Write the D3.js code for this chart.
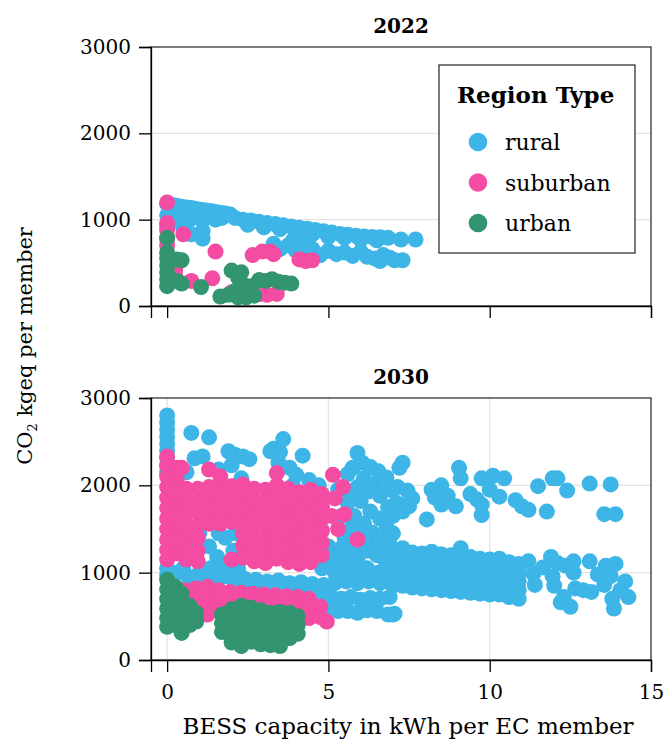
<!DOCTYPE html>
<html>
<head>
<meta charset="utf-8">
<script src="https://cdn.jsdelivr.net/npm/d3@7"></script>
<style>
  html, body { margin: 0; padding: 0; background: #fff; }
  svg { display: block; }
</style>
</head>
<body>
<svg id="chart" width="664" height="742"></svg>
<script>
// ---- data: each entry is [BESS kWh per member, [CO2 kgeq per member, ...]] ----
const regionTypes = ["rural", "suburban", "urban"];
const xTicks = [0, 5, 10, 15];
const yTicks = [0, 1000, 2000, 3000];
const years = ["2022", "2030"];

const rural2022 = [
  [0, [1180, 1050, 930]], [0.15, [1170]], [0.3, [1160, 1000]], [0.45, [1150]],
  [0.5, [1060, 900]], [0.6, [1140]], [0.7, [1000]], [0.75, [1135, 830]],
  [0.9, [1125, 1040]], [1.05, [1115]], [1.1, [990, 870, 780]], [1.2, [1105]],
  [1.3, [1040]], [1.35, [1100]], [1.5, [1090, 1000]], [1.65, [1080]], [1.7, [1020]],
  [1.8, [1070]], [1.95, [1060]], [2.1, [1020]], [2.35, [1000]], [2.5, [940]],
  [2.6, [990]], [2.85, [975]], [3.0, [910]], [3.1, [960]], [3.3, [720]],
  [3.35, [950]], [3.5, [890, 660]], [3.6, [935]], [3.75, [700]], [3.85, [920]],
  [3.9, [760]], [4.0, [860, 640]], [4.1, [905]], [4.25, [610]], [4.3, [740]],
  [4.35, [895]], [4.5, [830, 660]], [4.6, [880]], [4.75, [590]], [4.85, [865]],
  [5.0, [800, 640]], [5.1, [850]], [5.25, [600]], [5.35, [835]], [5.5, [790, 620]],
  [5.6, [825]], [5.75, [580]], [5.85, [815]], [6.0, [770, 630]], [6.1, [805]],
  [6.2, [570]], [6.35, [800]], [6.45, [550]], [6.5, [760]], [6.6, [795, 520]],
  [6.7, [590]], [6.85, [790]], [6.9, [560]], [7.05, [530]], [7.25, [770]],
  [7.3, [530]], [7.7, [770]]
];

const suburban2022 = [
  [0, [1200, 960, 880, 780, 700]], [0.25, [420, 350]], [0.5, [830]],
  [0.75, [290]], [1.4, [320]], [1.5, [630]], [2.0, [160]], [2.6, [150]],
  [2.65, [590]], [2.9, [140]], [2.95, [630]], [3.1, [130]], [3.2, [630]],
  [3.3, [600]], [3.4, [140]], [4.1, [540]], [4.3, [520]], [4.5, [530]]
];

const urban2022 = [
  [0, [790, 620, 550, 470, 390, 310, 230]], [0.3, [540, 290]], [0.45, [530, 260]],
  [1.05, [220]], [1.65, [110]], [1.9, [130]], [2.0, [410]], [2.1, [170]],
  [2.2, [330, 100]], [2.3, [390]], [2.35, [250]], [2.45, [100]], [2.6, [230]],
  [2.7, [120]], [2.85, [300]], [3.05, [290]], [3.25, [310]], [3.45, [280]],
  [3.65, [270]], [3.85, [260]]
];

const rural2030 = [
  [0, [2800, 2720, 2640, 2560, 2480, 2400, 2320, 2240, 2150, 1050, 980]],
  [0.3, [1000]], [0.5, [1050]], [0.6, [2150]], [0.65, [950]], [0.7, [1250]],
  [0.75, [2600]], [0.85, [2310]], [1.0, [1450, 1000, 920]], [1.1, [2330]],
  [1.3, [2550, 1300]], [1.35, [1050, 940]], [1.55, [1180]], [1.6, [2180, 1450]],
  [1.7, [950]], [1.75, [1100]], [1.8, [1400]], [1.9, [2390, 1050]],
  [2.0, [2230]], [2.05, [1250, 920]], [2.1, [2350, 1450]], [2.2, [1050]],
  [2.3, [2080]], [2.35, [2330]], [2.4, [930, 820]], [2.55, [2300]],
  [2.75, [920]], [2.8, [830]], [3.1, [900]], [3.2, [2390, 800]], [3.3, [2420]],
  [3.45, [2260, 910]], [3.5, [2380]], [3.6, [2530, 810]], [3.8, [2200, 880]],
  [3.9, [2000]], [4.0, [2120, 790]], [4.15, [890]], [4.2, [2340]],
  [4.4, [2060, 780]], [4.5, [870]], [4.7, [2000, 650]], [4.8, [1050, 760]],
  [4.85, [860]], [5.0, [1300, 600]], [5.1, [1150, 720]], [5.2, [1000, 880]],
  [5.25, [1200]], [5.3, [1950, 1050, 560]], [5.4, [1650, 1280, 700]],
  [5.5, [1400, 1050]], [5.55, [900]], [5.6, [2130, 1800, 1250, 1100, 560]],
  [5.7, [1880, 1430, 720]], [5.75, [2200, 1550]],
  [5.8, [1650, 1220]], [5.85, [1000]], [5.9, [2370, 1980, 1150, 880, 540]],
  [6.0, [1820, 1350, 690]], [6.05, [2260]], [6.1, [2080, 1560, 1450]],
  [6.2, [1250, 1050, 570]], [6.25, [1930, 900]], [6.3, [2210, 1700, 710]],
  [6.35, [1460]], [6.4, [1300]], [6.45, [2020]], [6.5, [1200, 560]],
  [6.55, [2160, 1000]], [6.6, [1880, 1620, 1380, 880, 700]], [6.75, [1150]],
  [6.8, [2090, 1520, 1250]], [6.85, [1750, 520]],
  [6.9, [1950, 1400, 1300, 1050, 900, 720]],
  [7.0, [1650, 1450, 1270, 1160, 1050, 950, 850, 520]],
  [7.05, [530]], [7.1, [1800]], [7.15, [1980]], [7.2, [2200, 1780]],
  [7.3, [2260, 1700, 1280, 1170, 1060, 960, 850]], [7.45, [1940]],
  [7.5, [1760]], [7.6, [1850, 1230, 1120, 1020, 920, 830]],
  [7.9, [1220, 1110, 1010, 910, 820]], [8.05, [1610]],
  [8.2, [1950, 1240, 1130, 1020, 920, 810]], [8.3, [1860]],
  [8.5, [2000, 1780, 1210, 1100, 1000, 900, 800]], [8.7, [1880]],
  [8.8, [1200, 1100, 990, 890, 790]], [8.95, [1760]], [9.05, [2200]],
  [9.1, [2080, 1280, 1170, 1060, 960, 860, 780]], [9.4, [1900, 1180, 1070, 970, 870, 770]],
  [9.6, [1840]], [9.75, [2080, 1780, 1660]], [9.7, [1160, 1060, 960, 860, 760]],
  [10.0, [1950, 1150, 1050, 950, 850, 750]], [10.1, [2110]],
  [10.3, [1870, 1160, 1050, 950, 850, 750]], [10.45, [2080]],
  [10.6, [1120, 1020, 920, 820, 720]], [10.8, [1830]],
  [10.9, [1100, 1000, 900, 800, 700]], [11.0, [1760]], [11.2, [1720, 1130]],
  [11.35, [990]], [11.4, [860]], [11.5, [1990]], [11.65, [1060]],
  [11.77, [1700]], [11.9, [1180]], [11.95, [2080, 960]], [12.0, [850]],
  [12.1, [2080, 1110]], [12.2, [660]], [12.3, [720]], [12.35, [1080]],
  [12.4, [1940]], [12.5, [610]], [12.6, [1130, 1000]], [12.65, [820]],
  [12.9, [800]], [13.1, [2020, 1130]], [13.15, [780]], [13.35, [980]],
  [13.55, [1670, 860]], [13.6, [1080]], [13.75, [2010, 960]], [13.8, [700]],
  [13.85, [590]], [13.9, [1670, 1100]], [14.05, [800]], [14.2, [900]],
  [14.3, [720]]
];

const suburban2030 = [
  [0, [2330, 2220, 2100, 1980, 1860, 1740, 1620, 1500, 1380, 1260, 1150]],
  [0.3, [2200, 2060, 1920, 1780, 1640, 1500, 1360, 1220]],
  [0.45, [2200]], [0.55, [800, 680, 560]],
  [0.6, [1960, 1820, 1680, 1540, 1400, 1260, 1150]], [0.9, [820, 700, 580]],
  [0.95, [1960, 1820, 1680, 1540, 1400, 1250, 1130]], [1.25, [840, 720, 600, 520]],
  [1.3, [2180, 1980, 1840, 1700, 1560]], [1.6, [800, 690, 590]],
  [1.65, [2100, 1960, 1820, 1680, 1560]], [1.95, [780, 680]],
  [2.0, [1990, 1850, 1710, 1580, 1150]], [2.3, [770, 670]],
  [2.35, [2010, 1870, 1730, 1590, 1450, 1310, 1170]], [2.65, [760, 660]],
  [2.7, [1960, 1820, 1680, 1540, 1400, 1260, 1130]], [3.0, [750, 650]],
  [3.05, [1950, 1810, 1670, 1530, 1390, 1250, 1110]], [3.35, [740, 640]],
  [3.4, [2140, 2000, 1860, 1720, 1580, 1440, 1300, 1160]], [3.7, [730, 630, 530]],
  [3.75, [1960, 1820, 1680, 1540, 1400, 1260, 1120]], [4.05, [720, 610, 500]],
  [4.1, [1920, 1780, 1640, 1500, 1360, 1220, 1100]], [4.4, [700, 590, 480]],
  [4.45, [1950, 1810, 1670, 1530, 1390, 1250, 1120]], [4.75, [610, 490]],
  [4.8, [1900, 1760, 1620, 1480, 1340, 1200]], [4.95, [440]],
  [5.1, [1650]], [5.14, [2120]], [5.2, [1850]], [5.3, [1500]], [5.45, [1980]],
  [5.5, [1670]], [5.9, [1380]]
];

const urban2030 = [
  [0, [920, 810, 700, 590, 480, 380]], [0.25, [840, 730, 620, 510, 400]],
  [0.45, [760, 640, 520, 400, 310]], [0.7, [620, 510, 400]], [0.9, [540, 440]],
  [1.7, [520, 420, 320]], [2.0, [580, 480, 380, 280, 200]],
  [2.3, [620, 520, 420, 320, 220, 160]], [2.6, [600, 500, 400, 300, 210]],
  [2.9, [570, 470, 370, 270, 180]], [3.2, [540, 440, 340, 240, 170]],
  [3.5, [550, 450, 350, 250, 160]], [3.8, [540, 440, 340, 250]],
  [4.05, [500, 400, 300]]
];

// ---- layout & styles ----
const W = 664, H = 742;
const FONT = "DejaVu Serif";
const palette = { rural: "#3db5e6", suburban: "#f34ca2", urban: "#32956f" };
const plotLeft = 151, plotRight = 651;
const panels = [
  { year: years[0], top: 47, bottom: 306, series: { rural: rural2022, suburban: suburban2022, urban: urban2022 }, xGrid: false, xLabels: false },
  { year: years[1], top: 398, bottom: 660, series: { rural: rural2030, suburban: suburban2030, urban: urban2030 }, xGrid: true, xLabels: true }
];

const svg = d3.select("#chart");
svg.append("rect").attr("width", W).attr("height", H).attr("fill", "#fff");

const x = d3.scaleLinear().domain([-0.5, 15]).range([plotLeft, plotRight]);

const flatten = cols => cols.flatMap(([xv, ys]) => ys.map(yv => ({ x: xv, y: yv })));

panels.forEach(p => {
  const y = d3.scaleLinear().domain([0, 3000]).range([p.bottom, p.top]);
  const g = svg.append("g");

  // grid
  const grid = g.append("g").attr("stroke", "#e4e4e4").attr("stroke-width", 1.3);
  grid.selectAll("line.h").data(yTicks.filter(t => t > 0 && t < 3000)).join("line")
    .attr("x1", plotLeft).attr("x2", plotRight)
    .attr("y1", d => y(d)).attr("y2", d => y(d));
  if (p.xGrid) {
    grid.selectAll("line.v").data(xTicks.filter(t => t < 15)).join("line")
      .attr("x1", d => x(d)).attr("x2", d => x(d))
      .attr("y1", p.top).attr("y2", p.bottom);
  }

  // points, drawn rural → suburban → urban
  regionTypes.forEach(rt => {
    g.append("g").selectAll("circle").data(flatten(p.series[rt])).join("circle")
      .attr("cx", d => x(d.x)).attr("cy", d => y(d.y)).attr("r", 8)
      .attr("fill", palette[rt]);
  });

  // frame
  g.append("rect").attr("x", plotLeft).attr("y", p.top)
    .attr("width", plotRight - plotLeft).attr("height", p.bottom - p.top)
    .attr("fill", "none").attr("stroke", "#333").attr("stroke-width", 1.3);

  // axes
  const ay = g.append("g").attr("transform", `translate(${plotLeft},0)`)
    .call(d3.axisLeft(y).tickValues(yTicks).tickSize(12).tickPadding(8).tickFormat(d3.format("d")));
  const ax = g.append("g").attr("transform", `translate(0,${p.bottom})`)
    .call(d3.axisBottom(x).tickValues(xTicks).tickSize(12).tickPadding(13)
      .tickFormat(p.xLabels ? d3.format("d") : () => ""));
  [ay, ax].forEach(a => {
    a.attr("font-family", FONT).attr("font-size", 20);
    a.selectAll("path, line").attr("stroke", "#000").attr("stroke-width", 1.3);
    a.selectAll("text").attr("fill", "#000");
  });

  // panel title
  svg.append("text").attr("x", (plotLeft + plotRight) / 2).attr("y", p.top - 14)
    .attr("text-anchor", "middle").attr("font-family", FONT).attr("font-weight", "bold")
    .attr("font-size", 20).text(p.year);
});

// axis titles
svg.append("text").attr("x", 408).attr("y", 734)
  .attr("text-anchor", "middle").attr("font-family", FONT).attr("font-size", 23)
  .text("BESS capacity in kWh per EC member");

const yt = svg.append("text")
  .attr("transform", "translate(32,346) rotate(-90)")
  .attr("text-anchor", "middle").attr("font-family", FONT).attr("font-size", 21);
yt.append("tspan").text("CO");
yt.append("tspan").attr("font-size", 13).attr("dy", 5).text("2");
yt.append("tspan").attr("dy", -5).text(" kgeq per member");

// legend
const lg = svg.append("g");
lg.append("rect").attr("x", 439).attr("y", 65).attr("width", 196).attr("height", 188)
  .attr("fill", "#fff").attr("stroke", "#333").attr("stroke-width", 1.3);
lg.append("text").attr("x", 457).attr("y", 103).attr("font-family", FONT)
  .attr("font-weight", "bold").attr("font-size", 23).text("Region Type");
const legendY = d3.scalePoint().domain(regionTypes).range([142, 223]);
regionTypes.forEach(rt => {
  lg.append("circle").attr("cx", 478).attr("cy", legendY(rt)).attr("r", 9.3).attr("fill", palette[rt]);
  lg.append("text").attr("x", 505).attr("y", legendY(rt) + 8).attr("font-family", FONT)
    .attr("font-size", 22).text(rt);
});
</script>
</body>
</html>
